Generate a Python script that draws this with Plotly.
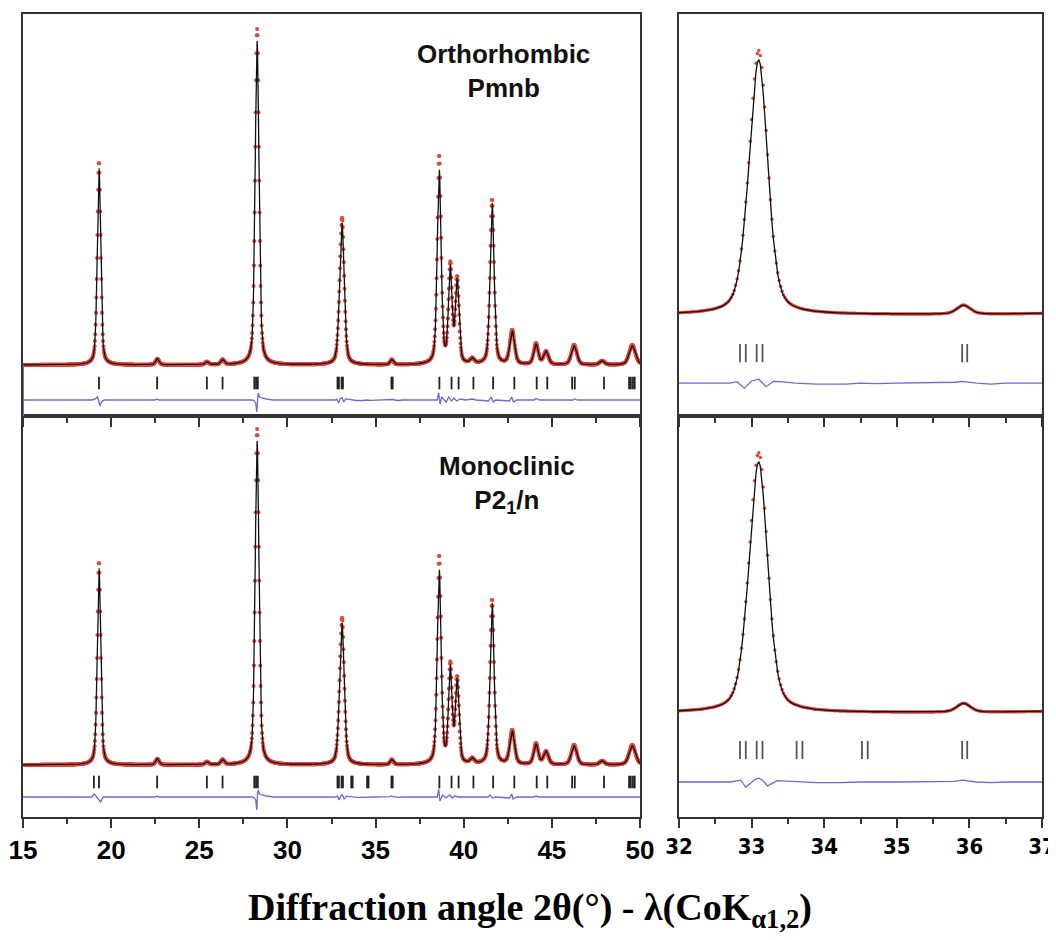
import numpy as np
import plotly.graph_objects as go

# ---------------- data ----------------
# Peak table (2theta position, calculated height, observed height, FWHM)
PEAK_POS   = [19.31, 22.62, 25.43, 26.32, 28.28, 32.92, 33.10, 35.92, 38.61, 39.24, 39.63, 40.48, 41.61, 42.75, 44.10, 44.67, 46.26, 47.85, 49.56]
CALC_H     = [198,   6,     3,     5,     324,   10,    140,   5,     194,   94,    82,    5,     162,   33,    20,    13,    19,    4,     19]
OBS_H      = [203,   6,     3,     5,     336,   10,    145,   5,     208,   97,    84,    5,     165,   34,    21,    13,    20,    4,     20]
PEAK_FWHM  = [0.23,  0.24,  0.24,  0.24,  0.26,  0.22,  0.29,  0.22,  0.26,  0.24,  0.24,  0.27,  0.27,  0.32,  0.30,  0.32,  0.36,  0.32,  0.42]
ETA = 0.4
STEP = 0.02          # measurement step in 2theta
TTH_MIN, TTH_MAX = 15.0, 50.0

# Bragg reflection positions (tick marks)
BRAGG_ORTHO = [19.31, 22.61, 25.43, 26.32, 28.12, 28.22, 28.32, 32.84, 32.92, 33.07, 33.15,
               35.90, 35.97, 38.62, 39.31, 39.71, 40.55, 41.67, 42.87, 44.14, 44.74,
               46.15, 46.30, 47.96, 49.38, 49.48, 49.60, 49.70]
BRAGG_MONO = [19.02, 19.31, 22.61, 25.43, 26.32, 28.12, 28.22, 28.32, 32.84, 32.92, 33.07, 33.15,
              33.62, 33.70, 34.52, 34.60, 35.90, 35.97, 38.62, 39.31, 39.71, 40.55, 41.67,
              42.87, 44.14, 44.74, 46.15, 46.30, 47.96, 49.38, 49.48, 49.60, 49.70]

# Difference curves (obs - calc), traced
DIFF_ORTHO_X = [15.0, 18.9, 19.1, 19.22, 19.3, 19.36, 19.45, 19.6, 22.5, 22.6, 22.7,
                28.0, 28.12, 28.2, 28.26, 28.3, 28.34, 28.42, 28.55, 28.8, 29.2,
                32.0, 32.7, 32.8, 32.9, 33.0, 33.1, 33.2, 33.3, 33.4, 33.6, 33.9, 34.3, 34.5, 34.7, 35.0,
                35.8, 35.9, 36.0, 36.1, 36.3, 36.5,
                38.5, 38.58, 38.66, 38.75, 38.85, 39.0, 39.15, 39.3, 39.45, 39.6, 39.8, 40.1, 40.5, 40.7,
                41.4, 41.55, 41.68, 41.8, 42.6, 42.72, 42.82, 43.0, 44.0, 44.1, 44.3, 46.2, 46.3, 46.45, 50.0]
DIFF_ORTHO_Y = [0, 0, 1, 3, -1, -6, -2, 0, 0, 1, 0,
                0, -1, -3, -12, 2, 7, 3, 2, 1, 0,
                0, 0, 0.8, -2.8, 1.2, 2.2, -2.0, 1.0, 0.8, 0, -0.5, -0.5, 0, -0.3, 0,
                0.5, 1.0, 0.5, 0, -0.5, 0,
                0, 7, -4, 3, 1, -2, 3, -1, 2, -1, 1, 0, 1, 0,
                -1, 3, -2, 0, -1, 3, -2, 0, 0, 1.5, 0, 0, 1, 0, 0]

DIFF_MONO_X = [15.0, 18.9, 19.05, 19.15, 19.3, 19.4, 19.55, 22.5, 22.6, 22.7,
               28.0, 28.12, 28.2, 28.26, 28.3, 28.34, 28.42, 28.55, 28.8, 29.2,
               32.0, 32.7, 32.85, 32.92, 33.05, 33.1, 33.15, 33.22, 33.35, 33.5, 33.9, 34.2, 34.5, 35.0,
               35.8, 35.9, 36.0, 36.1, 36.3, 36.5,
               38.5, 38.58, 38.65, 38.8, 39.0, 39.2, 39.35, 39.5, 39.7, 40.1,
               41.4, 41.5, 41.62, 41.8, 42.6, 42.72, 42.8, 43.0, 44.0, 44.1, 44.3, 50.0]
DIFF_MONO_Y = [0, 0, 3, 1, -3, -5, 0, 0, 1, 0,
               0, -1, -3, -13, 2, 7, 3, 2, 1, 0,
               0, 0, 1.0, -3.0, 1.5, 2.2, 1.0, -2.2, 0.8, 0.4, -0.4, -0.4, 0, 0,
               0.4, 1.0, 0.4, 0, -0.4, 0,
               0, 8, -4, 2, -1, 2, -1, 1, 0, 0,
               0, 2, -1, 0, -1, 3, -2, 0, 0, 1, 0, 0]

# ---------------- profile from the peak table ----------------
tth = np.round(np.arange(TTH_MIN, TTH_MAX + STEP / 2, STEP), 3)


def profile(heights):
    y = np.zeros_like(tth)
    for p, h, w in zip(PEAK_POS, heights, PEAK_FWHM):
        d = (tth - p) / w
        y += h * (ETA / (1 + 4 * d * d) + (1 - ETA) * np.exp(-4 * np.log(2) * d * d))
    return y


obs = profile(OBS_H)
calc = profile(CALC_H)

# ---------------- layout geometry ----------------
# the page body adds an 8 px margin, so the figure is 8 px smaller and shifted
OFF = 8
W, H = 1056 - OFF, 940 - OFF


def fx(px):
    return (px - OFF) / W


def fy(py):
    return 1 - (py - OFF) / H


XL = [fx(23), fx(640)]
XR = [fx(679), fx(1042)]
YT = [fy(416), fy(14)]
YB = [fy(817), fy(416)]

panels = [
    # xaxis id, yaxis id, bragg, diff x, diff y, y range, tick offset, diff offset, marker size, tick size, tick colour
    ("x", "y", BRAGG_ORTHO, DIFF_ORTHO_X, DIFF_ORTHO_Y, [-51, 351], -18, -35, 4, 9, "#222222"),
    ("x2", "y2", BRAGG_ORTHO, DIFF_ORTHO_X, DIFF_ORTHO_Y, [-56.2, 167.6], -21.2, -37.9, 3.5, 13, "#555555"),
    ("x3", "y3", BRAGG_MONO, DIFF_MONO_X, DIFF_MONO_Y, [-52, 349], -17, -32, 4, 9, "#222222"),
    ("x4", "y4", BRAGG_MONO, DIFF_MONO_X, DIFF_MONO_Y, [-58.8, 168], -20.9, -39, 3.5, 13, "#555555"),
]

DIFF_COLOR = "#6a6ad6"

fig = go.Figure()
for xa, ya, bragg, dx, dy, yr, toff, doff, ms, ts, tc in panels:
    fig.add_trace(go.Scatter(x=tth, y=obs, mode="markers", xaxis=xa, yaxis=ya,
                             marker=dict(size=ms, color="#e5463c", line=dict(width=0)),
                             showlegend=False, hoverinfo="skip"))
    fig.add_trace(go.Scatter(x=tth, y=calc, mode="lines", xaxis=xa, yaxis=ya,
                             line=dict(color="#111111", width=1.3),
                             showlegend=False, hoverinfo="skip"))
    fig.add_trace(go.Scatter(x=bragg, y=[toff] * len(bragg), mode="markers", xaxis=xa, yaxis=ya,
                             marker=dict(symbol="line-ns", size=ts, line=dict(width=1.8, color=tc)),
                             showlegend=False, hoverinfo="skip"))
    fig.add_trace(go.Scatter(x=dx, y=[v + doff for v in dy], mode="lines", xaxis=xa, yaxis=ya,
                             line=dict(color=DIFF_COLOR, width=1.3),
                             showlegend=False, hoverinfo="skip"))

axis_common = dict(showline=True, mirror=True, linecolor="#333333", linewidth=2,
                   showgrid=False, zeroline=False, ticks="outside", tickcolor="#333333",
                   tickwidth=2, automargin=False, ticklabeloverflow="allow")
left_ticks = dict(range=[15, 50], tickmode="array", tickvals=[15, 20, 25, 30, 35, 40, 45, 50],
                  ticklen=9, minor=dict(tickvals=[17.5, 22.5, 27.5, 32.5, 37.5, 42.5, 47.5],
                                        ticks="outside", ticklen=5, tickwidth=2, tickcolor="#333333"))
right_ticks = dict(range=[32, 37], tickmode="array", tickvals=[32, 33, 34, 35, 36, 37],
                   ticklen=9, minor=dict(tickvals=[32.5, 33.5, 34.5, 35.5, 36.5],
                                         ticks="outside", ticklen=5, tickwidth=2, tickcolor="#333333"))
lab_font = dict(family="Liberation Sans, Arial, sans-serif", size=26, color="black", weight="bold")
lab_font_r = dict(family="Liberation Sans Narrow, DejaVu Sans Condensed, Arial Narrow, Liberation Sans, sans-serif",
                  size=22, color="black", weight="bold")
yax = dict(showline=True, mirror=True, linecolor="#333333", linewidth=2, showgrid=False,
           zeroline=False, showticklabels=False, ticks="", automargin=False)

fig.update_layout(
    width=W, height=H, margin=dict(l=0, r=0, t=0, b=0, autoexpand=False),
    paper_bgcolor="white", plot_bgcolor="white",
    xaxis=dict(domain=XL, anchor="y", showticklabels=False, **axis_common, **left_ticks),
    xaxis2=dict(domain=XR, anchor="y2", showticklabels=False, **axis_common, **right_ticks),
    xaxis3=dict(domain=XL, anchor="y3", tickfont=lab_font, **axis_common, **left_ticks),
    xaxis4=dict(domain=XR, anchor="y4", tickfont=lab_font_r, **axis_common, **right_ticks),
    yaxis=dict(domain=YT, anchor="x", range=panels[0][5], **yax),
    yaxis2=dict(domain=YT, anchor="x2", range=panels[1][5], **yax),
    yaxis3=dict(domain=YB, anchor="x3", range=panels[2][5], **yax),
    yaxis4=dict(domain=YB, anchor="x4", range=panels[3][5], **yax),
    shapes=[
        # blue-coloured lower part of the left frame (difference-curve axis)
        dict(type="line", xref="x", yref="y", x0=15, x1=15, y0=panels[0][5][0], y1=0,
             line=dict(color=DIFF_COLOR, width=2)),
    ],
    annotations=[
        dict(text="<b>Orthorhombic</b><br><b>Pmnb</b>", x=fx(503), y=fy(71),
             xref="paper", yref="paper", showarrow=False, xanchor="center", yanchor="middle",
             font=dict(family="Liberation Sans, Arial, sans-serif", size=26, color="#111111")),
        dict(text="<b>Monoclinic</b><br><b>P2<sub>1</sub>/n</b>", x=fx(507), y=fy(484),
             xref="paper", yref="paper", showarrow=False, xanchor="center", yanchor="middle",
             font=dict(family="Liberation Sans, Arial, sans-serif", size=26, color="#111111")),
        dict(text="<b>Diffraction angle 2θ(°) - λ(CoK<sub>α1,2</sub>)</b>", x=fx(530), y=fy(910),
             xref="paper", yref="paper", showarrow=False, xanchor="center", yanchor="middle",
             font=dict(family="Liberation Serif, Times New Roman, serif", size=38, color="black")),
    ],
)

fig.write_html("out.html")
